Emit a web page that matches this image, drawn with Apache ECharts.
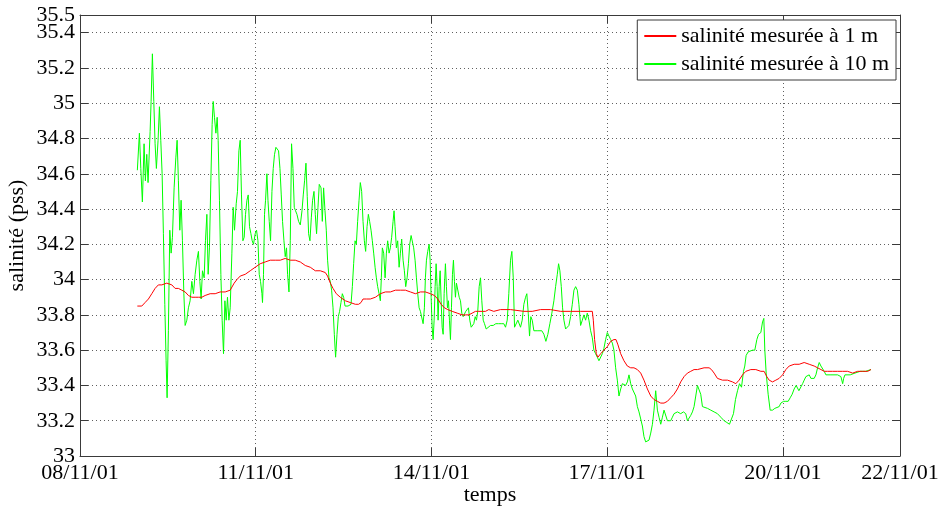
<!DOCTYPE html>
<html>
<head>
<meta charset="utf-8">
<script src="https://cdn.jsdelivr.net/npm/echarts@6/dist/echarts.min.js"></script>
<style>
  html, body { margin: 0; padding: 0; background: #fff; }
  #graphe { width: 942px; height: 508px; }
</style>
</head>
<body>
<div id="graphe"></div>
<script>
// Temps en jours depuis le 08/11/01 à 00h, salinité en pss
const jours1m = [
  0.979, 1.055, 1.111, 1.168, 1.226, 1.282, 1.338, 1.397, 1.482, 1.568, 1.624, 1.680, 1.738, 1.795, 1.851,
  1.909, 1.966, 2.022, 2.080, 2.137, 2.222, 2.308, 2.393, 2.479, 2.564, 2.593, 2.632, 2.679, 2.735, 2.821,
  2.906, 2.991, 3.077, 3.162, 3.248, 3.333, 3.419, 3.504, 3.590, 3.675, 3.761, 3.846, 3.932, 4.017, 4.103,
  4.188, 4.227, 4.274, 4.320, 4.376, 4.444, 4.530, 4.615, 4.701, 4.757, 4.798, 4.832, 4.889, 4.957, 5.043,
  5.128, 5.214, 5.299, 5.385, 5.470, 5.556, 5.641, 5.726, 5.812, 5.897, 5.983, 6.051, 6.108, 6.166, 6.222,
  6.279, 6.354, 6.439, 6.525, 6.581, 6.638, 6.696, 6.752, 6.809, 6.867, 6.923, 6.979, 7.065, 7.179, 7.350,
  7.578, 7.663, 7.721, 7.863, 8.034, 8.205, 8.376, 8.547, 8.747, 8.764, 8.786, 8.815, 8.843, 8.889, 8.945,
  9.003, 9.060, 9.116, 9.151, 9.185, 9.231, 9.287, 9.345, 9.402, 9.458, 9.516, 9.573, 9.629, 9.687, 9.744,
  9.800, 9.858, 9.915, 9.971, 10.029, 10.085, 10.142, 10.200, 10.256, 10.313, 10.371, 10.427, 10.484, 10.542, 10.655,
  10.741, 10.781, 10.826, 10.883, 10.969, 11.055, 11.140, 11.197, 11.253, 11.311, 11.368, 11.453, 11.538, 11.624, 11.680,
  11.726, 11.766, 11.824, 11.880, 11.937, 11.995, 12.051, 12.108, 12.193, 12.279, 12.364, 12.450, 12.535, 12.593, 12.650,
  12.706, 12.764, 12.850, 12.935, 13.021, 13.106, 13.191, 13.277, 13.363, 13.449, 13.504
];
const salinite1m = [
  33.85, 33.85, 33.87, 33.89, 33.92, 33.95, 33.97, 33.97, 33.98, 33.97, 33.95, 33.95, 33.94, 33.93, 33.91,
  33.90, 33.90, 33.90, 33.90, 33.91, 33.92, 33.92, 33.93, 33.93, 33.94, 33.95, 33.98, 34.00, 34.02, 34.03,
  34.05, 34.07, 34.09, 34.10, 34.11, 34.11, 34.11, 34.12, 34.11, 34.11, 34.10, 34.08, 34.07, 34.05, 34.05,
  34.04, 34.02, 33.98, 33.95, 33.92, 33.90, 33.88, 33.87, 33.86, 33.86, 33.87, 33.89, 33.89, 33.89, 33.90,
  33.92, 33.93, 33.93, 33.94, 33.94, 33.94, 33.93, 33.92, 33.93, 33.93, 33.92, 33.91, 33.89, 33.86, 33.84,
  33.83, 33.82, 33.81, 33.80, 33.80, 33.80, 33.81, 33.82, 33.82, 33.82, 33.82, 33.83, 33.82, 33.83, 33.83,
  33.82, 33.82, 33.82, 33.83, 33.83, 33.82, 33.82, 33.82, 33.82, 33.77, 33.66, 33.58, 33.56, 33.58, 33.60,
  33.62, 33.65, 33.66, 33.66, 33.63, 33.58, 33.54, 33.51, 33.50, 33.50, 33.49, 33.47, 33.43, 33.38, 33.34,
  33.32, 33.31, 33.30, 33.30, 33.31, 33.33, 33.35, 33.38, 33.42, 33.45, 33.47, 33.48, 33.49, 33.49, 33.50,
  33.50, 33.49, 33.47, 33.44, 33.43, 33.43, 33.42, 33.41, 33.43, 33.46, 33.48, 33.49, 33.49, 33.48, 33.48,
  33.45, 33.43, 33.42, 33.43, 33.44, 33.46, 33.49, 33.51, 33.52, 33.52, 33.53, 33.52, 33.51, 33.50, 33.49,
  33.48, 33.48, 33.48, 33.48, 33.48, 33.48, 33.47, 33.48, 33.48, 33.48, 33.49
];

const jours10m = [
  0.979, 1.014, 1.038, 1.065, 1.094, 1.116, 1.140, 1.162, 1.197, 1.214, 1.236, 1.260, 1.282, 1.304, 1.333,
  1.356, 1.379, 1.402, 1.424, 1.448, 1.470, 1.487, 1.509, 1.533, 1.556, 1.578, 1.607, 1.636, 1.658, 1.680,
  1.704, 1.726, 1.749, 1.773, 1.795, 1.824, 1.851, 1.880, 1.909, 1.937, 1.966, 1.995, 2.022, 2.046, 2.068,
  2.091, 2.120, 2.142, 2.166, 2.188, 2.210, 2.234, 2.256, 2.274, 2.296, 2.320, 2.342, 2.359, 2.381, 2.405,
  2.427, 2.450, 2.474, 2.496, 2.518, 2.542, 2.564, 2.593, 2.615, 2.638, 2.667, 2.689, 2.713, 2.735, 2.757,
  2.781, 2.803, 2.826, 2.850, 2.872, 2.894, 2.918, 2.940, 2.962, 2.991, 3.014, 3.038, 3.060, 3.082, 3.106,
  3.116, 3.133, 3.150, 3.168, 3.191, 3.209, 3.231, 3.253, 3.277, 3.299, 3.321, 3.345, 3.368, 3.390, 3.414,
  3.436, 3.458, 3.482, 3.504, 3.526, 3.544, 3.568, 3.590, 3.612, 3.636, 3.658, 3.680, 3.704, 3.732, 3.761,
  3.790, 3.812, 3.834, 3.858, 3.880, 3.903, 3.926, 3.949, 3.971, 3.995, 4.017, 4.039, 4.063, 4.085, 4.115,
  4.137, 4.159, 4.183, 4.205, 4.227, 4.251, 4.274, 4.296, 4.320, 4.342, 4.364, 4.388, 4.410, 4.432, 4.456,
  4.479, 4.501, 4.525, 4.547, 4.576, 4.603, 4.627, 4.650, 4.672, 4.696, 4.718, 4.740, 4.764, 4.786, 4.809,
  4.832, 4.855, 4.877, 4.901, 4.923, 4.945, 4.969, 4.991, 5.014, 5.038, 5.060, 5.082, 5.106, 5.128, 5.145,
  5.162, 5.185, 5.209, 5.231, 5.253, 5.277, 5.299, 5.321, 5.345, 5.362, 5.379, 5.402, 5.424, 5.448, 5.470,
  5.492, 5.516, 5.538, 5.561, 5.585, 5.607, 5.629, 5.653, 5.675, 5.697, 5.721, 5.744, 5.766, 5.790, 5.812,
  5.834, 5.858, 5.880, 5.897, 5.915, 5.937, 5.961, 5.978, 5.995, 6.012, 6.029, 6.046, 6.063, 6.080, 6.097,
  6.114, 6.132, 6.149, 6.166, 6.183, 6.200, 6.217, 6.239, 6.256, 6.274, 6.291, 6.308, 6.325, 6.342, 6.359,
  6.376, 6.393, 6.410, 6.427, 6.450, 6.474, 6.496, 6.518, 6.542, 6.564, 6.586, 6.610, 6.632, 6.655, 6.679,
  6.701, 6.723, 6.747, 6.769, 6.791, 6.815, 6.838, 6.860, 6.884, 6.906, 6.935, 6.962, 7.009, 7.055, 7.099,
  7.145, 7.191, 7.236, 7.265, 7.294, 7.321, 7.350, 7.373, 7.397, 7.419, 7.448, 7.475, 7.499, 7.521, 7.550,
  7.578, 7.607, 7.629, 7.653, 7.675, 7.697, 7.721, 7.749, 7.783, 7.817, 7.851, 7.885, 7.920, 7.954, 7.988,
  8.022, 8.056, 8.091, 8.120, 8.149, 8.171, 8.193, 8.217, 8.239, 8.262, 8.291, 8.320, 8.347, 8.376, 8.405,
  8.433, 8.462, 8.491, 8.518, 8.547, 8.576, 8.603, 8.632, 8.661, 8.689, 8.718, 8.747, 8.774, 8.803, 8.832,
  8.860, 8.889, 8.918, 8.945, 8.974, 9.003, 9.031, 9.060, 9.089, 9.116, 9.145, 9.174, 9.202, 9.231, 9.260,
  9.287, 9.316, 9.345, 9.373, 9.402, 9.431, 9.458, 9.487, 9.516, 9.544, 9.573, 9.602, 9.629, 9.658, 9.687,
  9.715, 9.744, 9.773, 9.800, 9.829, 9.858, 9.886, 9.915, 9.944, 9.971, 10.000, 10.029, 10.056, 10.085, 10.114,
  10.142, 10.171, 10.200, 10.256, 10.303, 10.342, 10.371, 10.398, 10.427, 10.456, 10.484, 10.513, 10.542, 10.569, 10.598,
  10.627, 10.655, 10.713, 10.769, 10.826, 10.883, 10.940, 10.997, 11.043, 11.089, 11.123, 11.157, 11.191, 11.226, 11.260,
  11.294, 11.328, 11.350, 11.373, 11.407, 11.441, 11.482, 11.521, 11.556, 11.585, 11.624, 11.653, 11.675, 11.692, 11.715,
  11.749, 11.783, 11.824, 11.863, 11.897, 11.937, 11.966, 12.012, 12.051, 12.091, 12.125, 12.159, 12.193, 12.227, 12.251,
  12.274, 12.308, 12.337, 12.364, 12.393, 12.422, 12.450, 12.479, 12.508, 12.535, 12.564, 12.593, 12.621, 12.650, 12.679,
  12.706, 12.735, 12.821, 12.935, 12.991, 13.021, 13.038, 13.060, 13.150, 13.231, 13.321, 13.414, 13.504
];
const salinite10m = [
  34.62, 34.83, 34.63, 34.44, 34.77, 34.56, 34.71, 34.55, 34.84, 35.01, 35.28, 35.01, 34.77, 34.63, 34.79,
  34.98, 34.79, 34.60, 34.26, 33.86, 33.54, 33.33, 33.71, 34.28, 34.15, 34.24, 34.52, 34.69, 34.79, 34.56,
  34.28, 34.45, 34.22, 33.92, 33.74, 33.77, 33.84, 33.88, 33.99, 33.92, 34.03, 34.11, 34.16, 33.99, 33.89,
  34.05, 34.01, 34.22, 34.37, 34.03, 34.18, 34.56, 34.88, 35.01, 34.92, 34.83, 34.92, 34.79, 34.45, 34.03,
  33.77, 33.58, 33.88, 33.77, 33.90, 33.77, 33.84, 34.15, 34.41, 34.28, 34.43, 34.50, 34.73, 34.79, 34.48,
  34.22, 34.24, 34.37, 34.45, 34.48, 34.30, 34.26, 34.22, 34.20, 34.26, 34.28, 34.22, 34.03, 33.99, 33.92,
  33.87, 34.03, 34.37, 34.45, 34.60, 34.45, 34.33, 34.22, 34.50, 34.63, 34.71, 34.75, 34.76, 34.73, 34.63,
  34.48, 34.33, 34.22, 34.13, 34.18, 34.03, 33.93, 34.22, 34.77, 34.63, 34.41, 34.39, 34.37, 34.33, 34.31,
  34.39, 34.48, 34.56, 34.66, 34.47, 34.26, 34.22, 34.35, 34.45, 34.50, 34.37, 34.26, 34.41, 34.54, 34.52,
  34.33, 34.52, 34.39, 34.28, 34.11, 34.01, 33.99, 33.94, 33.84, 33.69, 33.56, 33.69, 33.79, 33.82, 33.87,
  33.92, 33.90, 33.85, 33.84, 33.85, 33.84, 33.86, 33.96, 34.09, 34.22, 34.20, 34.33, 34.45, 34.55, 34.50,
  34.33, 34.22, 34.16, 34.30, 34.37, 34.33, 34.28, 34.22, 34.15, 34.07, 34.01, 33.96, 33.92, 33.88, 34.01,
  34.18, 34.15, 34.01, 34.15, 34.22, 34.15, 34.18, 34.24, 34.33, 34.39, 34.30, 34.18, 34.22, 34.07, 34.15,
  34.23, 34.11, 34.05, 33.96, 34.01, 34.09, 34.20, 34.25, 34.24, 34.18, 34.11, 34.01, 33.92, 33.84, 33.82,
  33.81, 33.75, 33.84, 34.01, 34.11, 34.16, 34.20, 34.11, 33.90, 33.73, 33.66, 33.77, 33.96, 34.09, 33.96,
  33.77, 33.96, 34.05, 33.88, 33.73, 33.69, 33.92, 34.09, 33.96, 33.84, 33.88, 33.77, 33.66, 33.84, 34.03,
  34.11, 33.99, 33.90, 33.98, 33.97, 33.90, 33.88, 33.81, 33.79, 33.80, 33.82, 33.81, 33.84, 33.77, 33.73,
  33.73, 33.75, 33.79, 33.77, 33.82, 33.96, 34.01, 33.88, 33.77, 33.75, 33.72, 33.73, 33.74, 33.74, 33.75,
  33.75, 33.75, 33.75, 33.73, 33.77, 33.92, 34.11, 34.16, 34.01, 33.73, 33.73, 33.77, 33.78, 33.73, 33.77,
  33.86, 33.90, 33.92, 33.81, 33.68, 33.79, 33.77, 33.71, 33.72, 33.71, 33.72, 33.71, 33.69, 33.65, 33.69,
  33.75, 33.81, 33.88, 33.96, 34.03, 34.09, 34.05, 33.96, 33.84, 33.77, 33.72, 33.71, 33.74, 33.79, 33.86,
  33.94, 33.96, 33.94, 33.86, 33.74, 33.77, 33.80, 33.77, 33.81, 33.77, 33.71, 33.67, 33.60, 33.58, 33.56,
  33.54, 33.55, 33.58, 33.61, 33.66, 33.70, 33.68, 33.66, 33.64, 33.60, 33.50, 33.43, 33.34, 33.38, 33.41,
  33.41, 33.40, 33.42, 33.46, 33.41, 33.38, 33.37, 33.34, 33.28, 33.25, 33.21, 33.17, 33.11, 33.08, 33.08,
  33.09, 33.13, 33.18, 33.26, 33.37, 33.26, 33.22, 33.18, 33.22, 33.26, 33.27, 33.20, 33.19, 33.20, 33.22,
  33.24, 33.25, 33.25, 33.24, 33.25, 33.24, 33.20, 33.20, 33.23, 33.25, 33.28, 33.34, 33.40, 33.41, 33.35,
  33.28, 33.28, 33.27, 33.26, 33.25, 33.24, 33.22, 33.20, 33.19, 33.18, 33.19, 33.24, 33.32, 33.37, 33.41,
  33.39, 33.48, 33.51, 33.57, 33.59, 33.60, 33.60, 33.60, 33.66, 33.69, 33.70, 33.76, 33.78, 33.60, 33.47,
  33.35, 33.26, 33.26, 33.27, 33.27, 33.28, 33.30, 33.31, 33.31, 33.31, 33.33, 33.35, 33.38, 33.40, 33.40,
  33.37, 33.38, 33.41, 33.43, 33.45, 33.46, 33.46, 33.44, 33.43, 33.44, 33.46, 33.50, 33.53, 33.51, 33.50,
  33.48, 33.46, 33.46, 33.46, 33.45, 33.41, 33.44, 33.46, 33.46, 33.47, 33.48, 33.48, 33.49
];

// Graduations : jours 0 à 14 comptés depuis le 08/11/01, salinité 33 à 35.5
const joursGraduations = [0, 3, 6, 9, 12, 14];
const salGraduations = [33, 33.2, 33.4, 33.6, 33.8, 34, 34.2, 34.4, 34.6, 34.8, 35, 35.2, 35.4];
const salSommet = [35.5];
const jourDebut = 8;
const suffixeDate = '/11/01';
const nomSerie1m = 'salinité mesurée à 1 m';
const nomSerie10m = 'salinité mesurée à 10 m';

const police = 'Liberation Serif';
const couleurCadre = '#3a3a3a';
const grille = { type: [1, 3], color: '#606060', width: 1 };

function paires(xs, ys) {
  return xs.map((x, i) => [x, ys[i]]);
}

function etiquetteDate(v) {
  const j = jourDebut + Math.round(v);
  return (j < 10 ? '0' + j : String(j)) + suffixeDate;
}

function etiquetteSal(v) {
  return String(Math.round(v * 10) / 10);
}

const traitCadre = { show: true, onZero: false, lineStyle: { color: couleurCadre, width: 1 } };
const graduationsInternes = { show: true, inside: true, length: 8, lineStyle: { color: couleurCadre } };
const texteEtiquette = { fontFamily: police, fontSize: 22, color: '#000' };

const graphe = echarts.init(document.getElementById('graphe'), null, { renderer: 'canvas' });

graphe.setOption({
  animation: false,
  backgroundColor: '#fff',
  grid: { left: 80, right: 42, top: 15, bottom: 52, containLabel: false, outerBoundsMode: 'none' },
  legend: {
    orient: 'vertical',
    right: 46,
    top: 20,
    backgroundColor: '#fff',
    borderColor: couleurCadre,
    borderWidth: 1,
    borderRadius: 0,
    padding: [5, 7, 5, 6],
    itemGap: 6,
    itemWidth: 32,
    itemHeight: 14,
    itemStyle: { color: 'transparent', borderWidth: 0, opacity: 0 },
    textStyle: texteEtiquette,
    data: [nomSerie1m, nomSerie10m]
  },
  xAxis: [
    {
      type: 'value', min: 0, max: 14, position: 'bottom',
      name: 'temps', nameLocation: 'middle', nameGap: 28, nameMoveOverlap: false,
      nameTextStyle: texteEtiquette,
      axisLine: traitCadre,
      axisTick: Object.assign({ customValues: joursGraduations }, graduationsInternes),
      axisLabel: Object.assign({
        margin: 6, customValues: joursGraduations, formatter: etiquetteDate,
        hideOverlap: false, showMinLabel: true, showMaxLabel: true
      }, texteEtiquette),
      splitLine: { show: true, lineStyle: grille }
    },
    {
      type: 'value', min: 0, max: 14, position: 'top',
      axisLine: traitCadre,
      axisTick: Object.assign({ customValues: joursGraduations }, graduationsInternes),
      axisLabel: { show: false },
      splitLine: { show: false }
    }
  ],
  yAxis: [
    {
      type: 'value', min: 33, max: 35.5, position: 'left',
      name: 'salinité (pss)', nameLocation: 'middle', nameGap: 52, nameMoveOverlap: false,
      nameTextStyle: texteEtiquette,
      axisLine: traitCadre,
      axisTick: Object.assign({ customValues: salGraduations }, graduationsInternes),
      axisLabel: Object.assign({
        margin: 5, customValues: salGraduations, formatter: etiquetteSal,
        hideOverlap: false, showMinLabel: true, showMaxLabel: true
      }, texteEtiquette),
      splitLine: { show: true, lineStyle: grille }
    },
    {
      type: 'value', min: 33, max: 35.5, position: 'right',
      axisLine: traitCadre,
      axisTick: Object.assign({ customValues: salGraduations }, graduationsInternes),
      axisLabel: { show: false },
      splitLine: { show: false }
    },
    {
      // étiquette du sommet de l'axe (35.5)
      type: 'value', min: 33, max: 35.5, position: 'left', offset: 0,
      axisLine: { show: false },
      axisTick: { show: false },
      axisLabel: Object.assign({
        margin: 5, customValues: salSommet, formatter: etiquetteSal,
        hideOverlap: false, showMinLabel: true, showMaxLabel: true
      }, texteEtiquette),
      splitLine: { show: false }
    }
  ],
  series: [
    {
      name: nomSerie1m, type: 'line', xAxisIndex: 0, yAxisIndex: 0,
      data: paires(jours1m, salinite1m),
      symbol: 'none', showSymbol: false, smooth: false,
      lineStyle: { color: '#ff0000', width: 1 },
      itemStyle: { color: '#ff0000' },
      z: 3
    },
    {
      name: nomSerie10m, type: 'line', xAxisIndex: 0, yAxisIndex: 0,
      data: paires(jours10m, salinite10m),
      symbol: 'none', showSymbol: false, smooth: false,
      lineStyle: { color: '#00ff00', width: 1 },
      itemStyle: { color: '#00ff00' },
      z: 2
    }
  ]
});
</script>
</body>
</html>
